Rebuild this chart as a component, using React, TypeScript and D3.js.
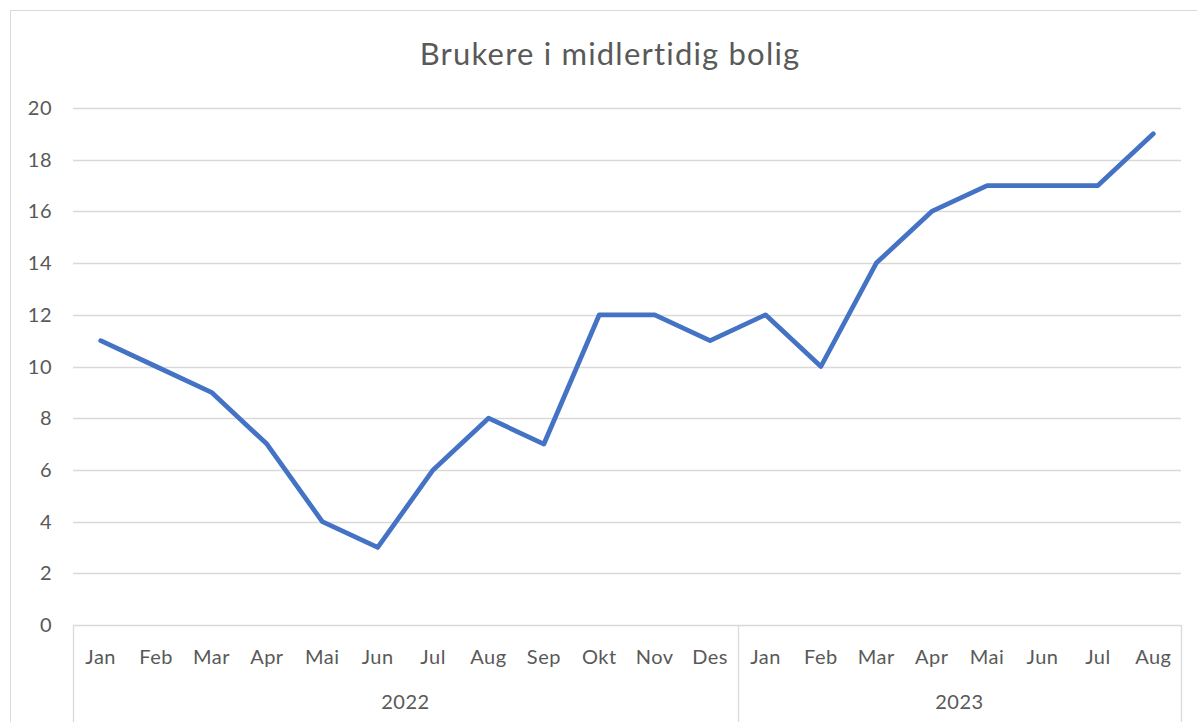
import * as d3 from "d3";
import { useEffect, useRef } from "react";

const title = "Brukere i midlertidig bolig";
const months = ["Jan", "Feb", "Mar", "Apr", "Mai", "Jun", "Jul", "Aug", "Sep", "Okt", "Nov", "Des", "Jan", "Feb", "Mar", "Apr", "Mai", "Jun", "Jul", "Aug"];
const years = ["2022", "2023"];
const yearOf = [0, 0, 0, 0, 0, 0, 0, 0, 0, 0, 0, 0, 1, 1, 1, 1, 1, 1, 1, 1];
const values = [11, 10, 9, 7, 4, 3, 6, 8, 7, 12, 12, 11, 12, 10, 14, 16, 17, 17, 17, 19];
const yTicks = [0, 2, 4, 6, 8, 10, 12, 14, 16, 18, 20];

export default function App() {
  const ref = useRef<SVGSVGElement | null>(null);

  useEffect(() => {
    const width = 1197;
    const height = 722;
    const margin = { top: 108, right: 16, bottom: 97, left: 73 };
    const font = "Lato, 'Open Sans', sans-serif";
    const grid = "#d9d9d9";
    const textColor = "#595959";

    const svg = d3.select(ref.current);
    svg.selectAll("*").remove();
    svg.attr("width", width).attr("height", height);

    svg.append("rect").attr("width", width).attr("height", height).attr("fill", "#fff");
    svg
      .append("rect")
      .attr("x", 10.5)
      .attr("y", 10.5)
      .attr("width", width)
      .attr("height", height)
      .attr("fill", "none")
      .attr("stroke", grid);

    const idx = months.map((_, i) => String(i));
    const x = d3
      .scaleBand()
      .domain(idx)
      .range([margin.left, width - margin.right])
      .padding(0);
    const y = d3
      .scaleLinear()
      .domain([0, 20])
      .range([height - margin.bottom, margin.top]);

    // Gridlines
    svg
      .append("g")
      .selectAll("line")
      .data(yTicks)
      .join("line")
      .attr("x1", margin.left)
      .attr("x2", width - margin.right)
      .attr("y1", (d) => Math.round(y(d)) + 0.5)
      .attr("y2", (d) => Math.round(y(d)) + 0.5)
      .attr("stroke", grid)
      .attr("stroke-width", 1.3);

    // Y labels
    svg
      .append("g")
      .selectAll("text")
      .data(yTicks)
      .join("text")
      .attr("x", 52)
      .attr("y", (d) => y(d))
      .attr("dy", "0.35em")
      .attr("text-anchor", "end")
      .attr("font-family", font)
      .attr("font-size", 20)
      .attr("letter-spacing", 0.5)
      .attr("fill", textColor)
      .text((d) => d);

    // Multi-level category axis
    const axisTop = y(0);
    const groupBounds = years.map((_, g) => {
      const members = idx.filter((_, i) => yearOf[i] === g);
      return [x(members[0])!, x(members[members.length - 1])! + x.bandwidth()];
    });
    const dividers = [margin.left, ...groupBounds.map((b) => b[1])];
    svg
      .append("g")
      .selectAll("line")
      .data(dividers)
      .join("line")
      .attr("x1", (d) => Math.round(d) + 0.5)
      .attr("x2", (d) => Math.round(d) + 0.5)
      .attr("y1", axisTop)
      .attr("y2", height)
      .attr("stroke", grid)
      .attr("stroke-width", 1.3);

    svg
      .append("g")
      .selectAll("text")
      .data(months)
      .join("text")
      .attr("x", (_, i) => x(String(i))! + x.bandwidth() / 2)
      .attr("y", 657)
      .attr("dy", "0.35em")
      .attr("text-anchor", "middle")
      .attr("font-family", font)
      .attr("font-size", 20)
      .attr("letter-spacing", 0.5)
      .attr("fill", textColor)
      .text((d) => d);

    svg
      .append("g")
      .selectAll("text")
      .data(years)
      .join("text")
      .attr("x", (_, g) => (groupBounds[g][0] + groupBounds[g][1]) / 2)
      .attr("y", 702)
      .attr("dy", "0.35em")
      .attr("text-anchor", "middle")
      .attr("font-family", font)
      .attr("font-size", 20)
      .attr("letter-spacing", 0.5)
      .attr("fill", textColor)
      .text((d) => d);

    // Line
    const line = d3
      .line<number>()
      .x((_, i) => x(String(i))! + x.bandwidth() / 2)
      .y((d) => y(d));
    svg
      .append("path")
      .datum(values)
      .attr("d", line)
      .attr("fill", "none")
      .attr("stroke", "#4472c4")
      .attr("stroke-width", 4.75)
      .attr("stroke-linejoin", "round")
      .attr("stroke-linecap", "round");

    // Title
    svg
      .append("text")
      .attr("x", 610)
      .attr("y", 65)
      .attr("text-anchor", "middle")
      .attr("font-family", font)
      .attr("font-size", 31)
      .attr("letter-spacing", 1.2)
      .attr("fill", textColor)
      .text(title);
  }, []);

  return <svg ref={ref} style={{ position: "absolute", left: 0, top: 0, display: "block" }} />;
}
